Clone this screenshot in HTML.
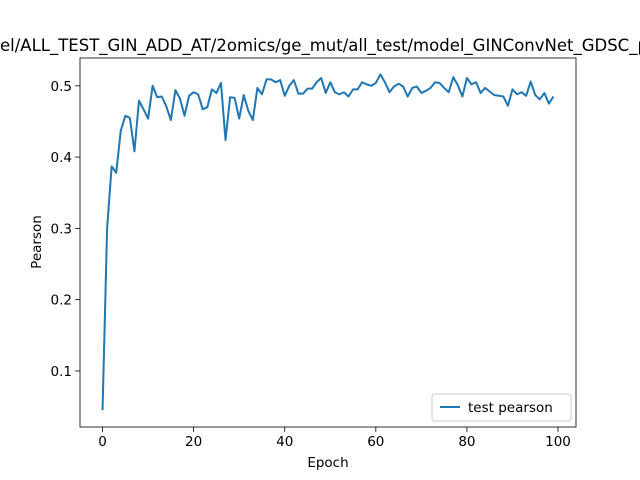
<!DOCTYPE html>
<html><head><meta charset="utf-8"><style>
html,body{margin:0;padding:0;background:#fff;}
svg{display:block;font-family:"DejaVu Sans","Liberation Sans",sans-serif;}
</style></head><body>
<svg id="chart" width="640" height="480">
<rect width="640" height="480" fill="#fff"/>
<text x="0" y="51" font-size="16.5" fill="#000">el/ALL_TEST_GIN_ADD_AT/2omics/ge_mut/all_test/model_GINConvNet_GDSC_pearson</text>
<g id="grid"></g>
<rect x="80" y="58" width="496" height="369" fill="none" stroke="#000" stroke-width="0.8"/>
<text x="328" y="467" font-size="13.5" text-anchor="middle">Epoch</text>
<text transform="translate(41,242) rotate(-90)" font-size="13.5" text-anchor="middle">Pearson</text>
<g>
<rect x="432" y="394" width="139" height="27" rx="3" fill="#fff" fill-opacity="0.8" stroke="#ccc" stroke-width="1"/>
<line x1="440" y1="407" x2="460" y2="407" stroke="#1f77b4" stroke-width="2"/>
<text x="468" y="412" font-size="13.5">test pearson</text>
</g>
</svg>
<script>
const epochs = [];
const pearson = [0.045,0.30,0.387,0.378,0.437,0.458,0.455,0.408,0.479,0.467,0.454,0.500,0.484,0.485,0.471,0.452,0.494,0.482,0.458,0.486,0.491,0.488,0.467,0.470,0.495,0.490,0.504,0.424,0.484,0.483,0.454,0.487,0.465,0.452,0.497,0.488,0.509,0.509,0.505,0.508,0.486,0.500,0.508,0.489,0.489,0.496,0.496,0.505,0.511,0.490,0.505,0.491,0.488,0.491,0.485,0.495,0.495,0.505,0.502,0.500,0.504,0.516,0.505,0.491,0.499,0.503,0.499,0.485,0.497,0.499,0.490,0.493,0.497,0.505,0.504,0.497,0.491,0.512,0.501,0.485,0.511,0.502,0.505,0.490,0.497,0.492,0.487,0.486,0.485,0.472,0.495,0.488,0.491,0.486,0.506,0.487,0.481,0.490,0.475,0.485];
for (let i = 0; i < pearson.length; i++) epochs.push(i);
const xTicks = [0,20,40,60,80,100];
const yTicks = [0.1,0.2,0.3,0.4,0.5];
const xMin = -4.95, xMax = 103.95, yMin = 0.0214, yMax = 0.539;
const L = 80, R = 576, T = 58, B = 427;
function sx(v){return L + (v - xMin) / (xMax - xMin) * (R - L);}
function sy(v){return B - (v - yMin) / (yMax - yMin) * (B - T);}
const NS = "http://www.w3.org/2000/svg";
const svg = document.getElementById('chart');
const g = document.getElementById('grid');
xTicks.forEach(t => {
  const ln = document.createElementNS(NS,'line');
  ln.setAttribute('x1',sx(t)); ln.setAttribute('x2',sx(t));
  ln.setAttribute('y1',B); ln.setAttribute('y2',B+4.9);
  ln.setAttribute('stroke','#000'); ln.setAttribute('stroke-width','0.8');
  
  
  g.appendChild(ln);
  const tx = document.createElementNS(NS,'text');
  tx.setAttribute('x',sx(t)); tx.setAttribute('y',B+19);
  tx.setAttribute('font-size','13.5'); tx.setAttribute('text-anchor','middle');
  tx.textContent = t;
  
  
  g.appendChild(tx);
});
yTicks.forEach(t => {
  const ln = document.createElementNS(NS,'line');
  ln.setAttribute('x1',L-4.9); ln.setAttribute('x2',L);
  ln.setAttribute('y1',sy(t)); ln.setAttribute('y2',sy(t));
  ln.setAttribute('stroke','#000'); ln.setAttribute('stroke-width','0.8');
  
  
  g.appendChild(ln);
  const tx = document.createElementNS(NS,'text');
  tx.setAttribute('x',L-8); tx.setAttribute('y',sy(t)+5);
  tx.setAttribute('font-size','13.5'); tx.setAttribute('text-anchor','end');
  tx.textContent = t.toFixed(1);
  
  
  g.appendChild(tx);
});
const pl = document.createElementNS(NS,'polyline');
pl.setAttribute('points', pearson.map((v,i)=>sx(epochs[i])+','+sy(v)).join(' '));
pl.setAttribute('fill','none'); pl.setAttribute('stroke','#1f77b4');
pl.setAttribute('stroke-width','2'); pl.setAttribute('stroke-linejoin','round');


g.appendChild(pl);
</script>
</body></html>
